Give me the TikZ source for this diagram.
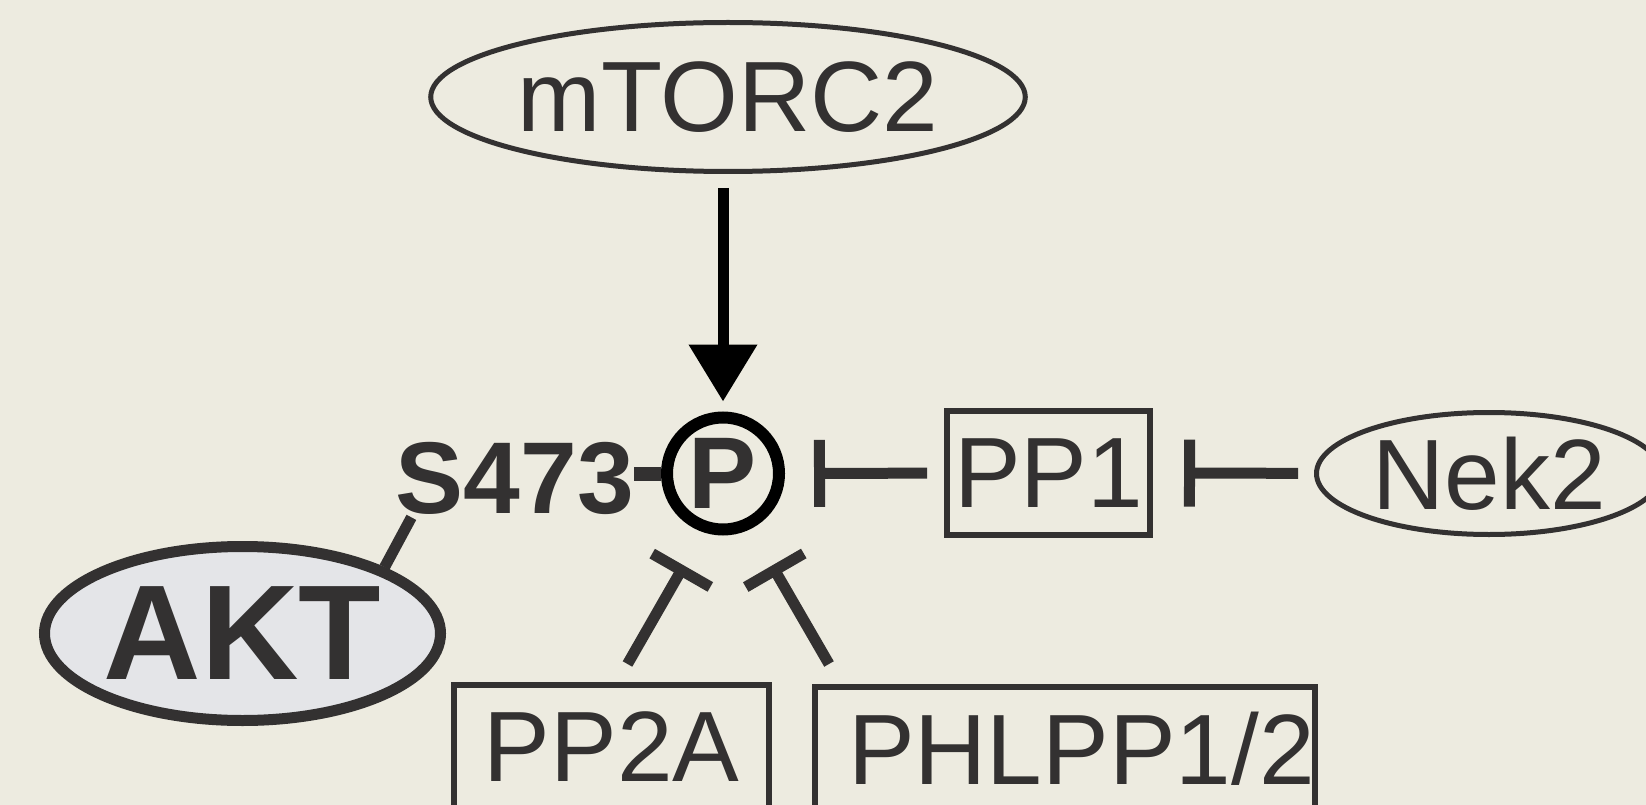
\documentclass[tikz,border=0pt]{standalone}
\usepackage{fontspec}
\setmainfont{Liberation Sans}
\usetikzlibrary{shapes.geometric, arrows.meta, calc}

\definecolor{paper}{RGB}{237,235,224}
\definecolor{ink}{RGB}{51,49,49}
\definecolor{aktfill}{RGB}{228,229,232}

\tikzset{
	mol/.style={draw=ink, text=ink, line width=5pt, inner sep=0pt, font=\fontsize{100}{100}\selectfont},
	protein/.style={mol, ellipse},
	phosphatase/.style={mol, rectangle, line width=6pt},
	inhib/.style={draw=ink, line width=11pt, -{Bar[width=67pt]}},
	activ/.style={draw=black, line width=11pt, -{Triangle[width=66pt, length=57pt]}},
}

\begin{document}
\begin{tikzpicture}[x=1pt, y=-1pt]
	
	% Canvas
	\fill[paper] (0,0) rectangle (1646,805);
	\useasboundingbox (0,0) rectangle (1646,805);
	\clip (0,0) rectangle (1646,805);
	
	% Proteins
	\node[protein, minimum width=543pt, minimum height=149pt] (mtorc2) at (728,97) {mTORC2};
	\node[protein, fill=aktfill, line width=11pt, minimum width=396pt, minimum height=174pt,
		font=\fontsize{135}{135}\selectfont\bfseries] (akt) at (242.5,633.5) {AKT};
	\node[protein, minimum width=345pt, minimum height=122pt] (nek2) at (1489,473.5) {Nek2};
	
	% Phosphatases
	\node[phosphatase, minimum width=203pt, minimum height=124pt] (pp1) at (1048.5,473) {PP1};
	\node[phosphatase, minimum width=315pt, minimum height=124pt] (pp2a) at (611.5,747) {PP2A};
	\node[phosphatase, minimum height=124pt, text width=500pt, align=right] (phlpp) at (1065,749) {PHLPP1/2};
	
	% Phospho site
	\node[draw=black, circle, line width=12pt, minimum size=112pt, inner sep=0pt, text=ink,
		font=\fontsize{102}{102}\selectfont\bfseries] (p) at (723,473.5) {P};
	\node[text=ink, inner sep=0pt, anchor=base east,
		font=\fontsize{102}{102}\selectfont\bfseries] (s473) at (634,513) {S473};
	
	% Links
	\draw[ink, line width=14pt] (s473.east |- p) -- (p);
	\draw[ink, line width=11pt] (akt.25) -- ($(s473.south west)+(16,3)$);
	\draw[activ, shorten <=14pt, shorten >=10pt] (p |- mtorc2.south) -- (p);
	\draw[inhib, shorten <=17pt, shorten >=29pt] (pp1) -- (p);
	\draw[inhib, shorten <=16pt, shorten >=31pt] (nek2) -- (pp1);
	\draw[inhib] ($(pp2a.north)+(16,-18)$) -- ($(p)+(-39,92)$);
	\draw[inhib] ($(phlpp.north west)+(17,-20)$) -- ($(p)+(49,92)$);
	
\end{tikzpicture}
\end{document}
